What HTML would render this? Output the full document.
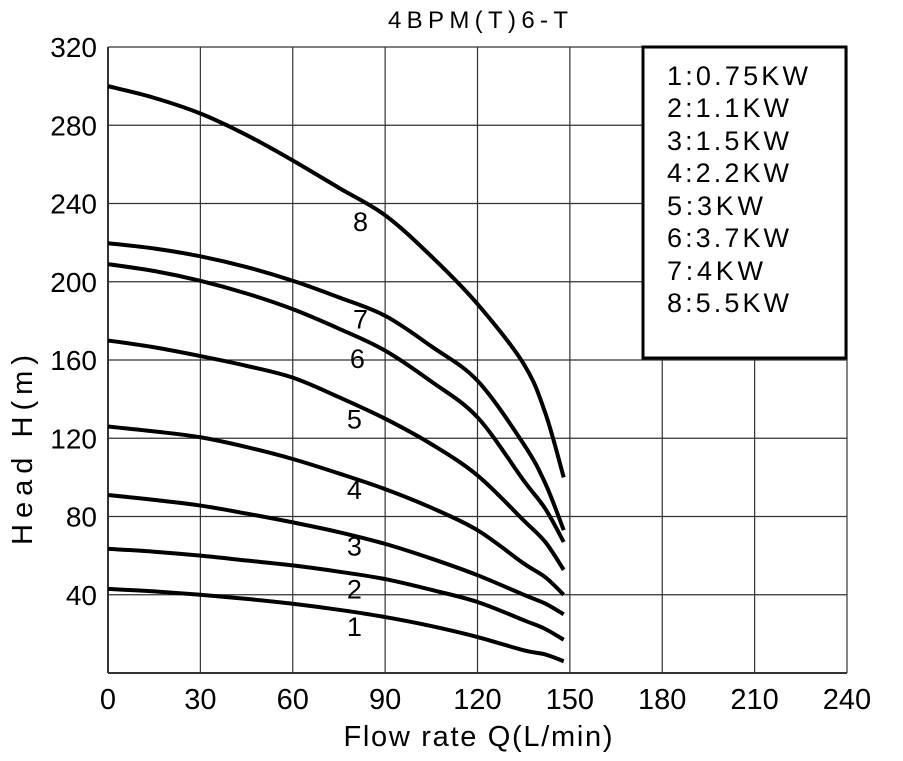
<!DOCTYPE html>
<html><head><meta charset="utf-8"><style>
html,body{margin:0;padding:0;background:#fff;}
svg{display:block;font-family:"Liberation Sans",sans-serif;}
</style></head><body>
<svg id="chart" width="903" height="761" viewBox="0 0 903 761">
<text x="478" y="28" font-size="24" text-anchor="middle" textLength="180">4BPM(T)6-T</text>
<g id="grid"></g>
<g id="curves"></g>
<g id="labels"></g>
<rect x="643" y="47" width="203" height="311" fill="#fff" stroke="#000" stroke-width="3"/>
<g font-size="27">
<text x="667" y="85" textLength="141">1:0.75KW</text>
<text x="667" y="117" textLength="122">2:1.1KW</text>
<text x="667" y="150" textLength="122">3:1.5KW</text>
<text x="667" y="182" textLength="122">4:2.2KW</text>
<text x="667" y="215" textLength="96">5:3KW</text>
<text x="667" y="247" textLength="122">6:3.7KW</text>
<text x="667" y="280" textLength="96">7:4KW</text>
<text x="667" y="312" textLength="122">8:5.5KW</text>
</g>
<text x="478" y="746" font-size="29" text-anchor="middle" textLength="269">Flow rate Q(L/min)</text>
<text transform="translate(32,450) rotate(-90)" font-size="29" text-anchor="middle" textLength="190">Head H(m)</text>
</svg>
<script>
const xTicks=[0,30,60,90,120,150,180,210,240];
const yTicks=[40,80,120,160,200,240,280,320];
const flows=[0,15,30,45,60,75,90,105,120,135,142,148];
const s1=[43,41.7,40,37.9,35.4,32.3,28.6,24,18.4,11.6,9.5,6];
const s2=[63.5,62,60,57.5,55,51.8,48,42.5,36.3,27,22.5,17];
const s3=[91,88.5,85.6,81.5,77,72,66,58.5,50,40,35.5,30];
const s4=[126,123.5,120.5,115.5,109.4,102,94,84.5,73,56,49,40];
const s5=[170,166.5,162,157,151,141,130,117,101,78,67,52.7];
const s6=[209,205.5,200.5,194,186,176,164.8,149,130.7,98.4,84,67];
const s7=[219.7,217,213,207.5,200.5,192,182.6,167,149.4,117,97,73];
const s8=[300,294,286,275,262,248,234,213,188.6,158,133,100];
const seriesNames=["1","2","3","4","5","6","7","8"];
const labelX=[80,80,80,80,80,81,82,82];
const labelY=[19,38,60,89,125,156,176,226];
const series=[s1,s2,s3,s4,s5,s6,s7,s8];
const NS="http://www.w3.org/2000/svg";
function sx(v){return 108+v*(847-108)/240;}
function sy(v){return 673-v*(673-47)/320;}
const grid=document.getElementById('grid');
xTicks.forEach(t=>{
 const l=document.createElementNS(NS,'line');
 
 
 l.setAttribute('x1',sx(t));l.setAttribute('x2',sx(t));l.setAttribute('y1',sy(0));l.setAttribute('y2',sy(320));
 l.setAttribute('stroke','#333');l.setAttribute('stroke-width',t===0?2:1.2);
 grid.appendChild(l);
 const tx=document.createElementNS(NS,'text');
 
 
 tx.setAttribute('x',sx(t));tx.setAttribute('y',709);tx.setAttribute('font-size','29');tx.setAttribute('text-anchor','middle');
 tx.textContent=t;grid.appendChild(tx);
});
[0].concat(yTicks).forEach(t=>{
 const l=document.createElementNS(NS,'line');
 
 
 l.setAttribute('x1',sx(0));l.setAttribute('x2',sx(240));l.setAttribute('y1',sy(t));l.setAttribute('y2',sy(t));
 l.setAttribute('stroke','#333');l.setAttribute('stroke-width',t===0?2:1.2);
 grid.appendChild(l);
});
yTicks.forEach(t=>{
 const tx=document.createElementNS(NS,'text');
 
 
 tx.setAttribute('x',97);tx.setAttribute('y',sy(t)+10);tx.setAttribute('font-size','28');tx.setAttribute('text-anchor','end');
 tx.textContent=t;grid.appendChild(tx);
});
function pathFor(ys){
 const p=flows.map((f,i)=>[sx(f),sy(ys[i])]);
 let d='M'+p[0][0]+','+p[0][1];
 for(let i=0;i<p.length-1;i++){
  const p0=p[i-1]||p[i],p1=p[i],p2=p[i+1],p3=p[i+2]||p2;
  const c1=[p1[0]+(p2[0]-p0[0])/6,p1[1]+(p2[1]-p0[1])/6];
  const c2=[p2[0]-(p3[0]-p1[0])/6,p2[1]-(p3[1]-p1[1])/6];
  d+=' C'+c1[0]+','+c1[1]+' '+c2[0]+','+c2[1]+' '+p2[0]+','+p2[1];
 }
 return d;
}
const cg=document.getElementById('curves');
series.forEach((s,i)=>{
 const p=document.createElementNS(NS,'path');
 
 
 p.setAttribute('d',pathFor(s));p.setAttribute('fill','none');p.setAttribute('stroke','#000');p.setAttribute('stroke-width','4');
 cg.appendChild(p);
});
const lg=document.getElementById('labels');
seriesNames.forEach((n,i)=>{
 const t=document.createElementNS(NS,'text');
 
 
 t.setAttribute('x',sx(labelX[i]));t.setAttribute('y',sy(labelY[i]));t.setAttribute('font-size','27');t.setAttribute('text-anchor','middle');
 t.textContent=n;lg.appendChild(t);
});
</script>
</body></html>
